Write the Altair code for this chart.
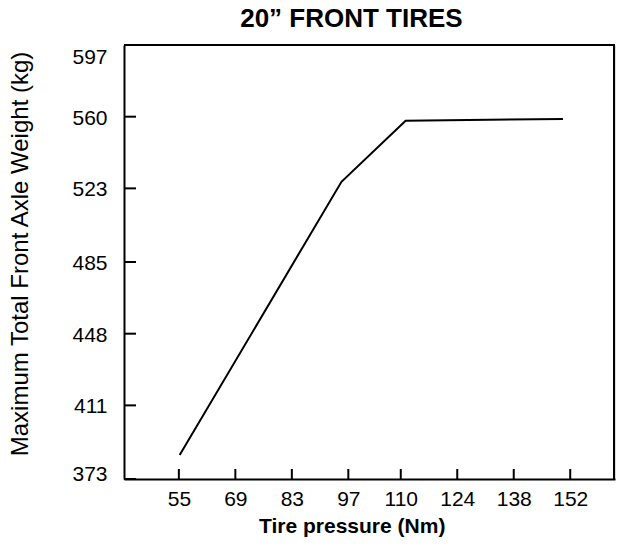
import altair as alt
import pandas as pd

# data
pressure = [55.2, 95.3, 111.2, 150.2]
weight = [385.4, 526.4, 557.9, 558.8]
x_ticks = [55, 69, 83, 97, 110, 124, 138, 152]
y_ticks = [373, 411, 448, 485, 523, 560, 597]
chart_title = ["20\u201d FRONT TIRES"]

FONT = "Liberation Sans"
W, H = 491, 434

line_df = pd.DataFrame({"p": pressure, "w": weight})
xt_df = pd.DataFrame({"p": x_ticks})
yt_df = pd.DataFrame({"w": y_ticks})
title_df = pd.DataFrame({"t": chart_title})

xscale = alt.Scale(domain=[41.4, 163.1], nice=False, zero=False)
yscale = alt.Scale(domain=[373, 597], nice=False, zero=False)

xaxis = alt.Axis(
    values=x_ticks, ticks=False, grid=False, domain=True, domainColor="black",
    domainWidth=2, labelFont=FONT, labelFontSize=21, labelColor="black",
    labelPadding=9, title="Tire pressure (Nm)", titleFont=FONT,
    titleFontSize=21, titleFontWeight="bold", titleColor="black",
    titleX=227.7, titleY=53, titleAlign="center", titleBaseline="alphabetic",
)
yaxis = alt.Axis(
    values=y_ticks, ticks=False, grid=False, domain=True, domainColor="black",
    domainWidth=2, labelFont=FONT, labelFontSize=21, labelColor="black",
    labelPadding=17,
    labelOffset={"condition": [{"test": "datum.value == 597", "value": 12},
                               {"test": "datum.value == 373", "value": -5}],
                 "value": 1.5},
    title="Maximum Total Front Axle Weight (kg)", titleFont=FONT,
    titleFontSize=24, titleFontWeight="normal", titleColor="black",
    titleX=-97, titleY=208.5, titleAlign="center", titleAngle=270,
    titleBaseline="alphabetic",
)

line = alt.Chart(line_df).mark_line(color="black", strokeWidth=2).encode(
    x=alt.X("p:Q", scale=xscale, axis=xaxis),
    y=alt.Y("w:Q", scale=yscale, axis=yaxis),
)

xticks = alt.Chart(xt_df).mark_rule(color="black", strokeWidth=2).encode(
    x=alt.X("p:Q", scale=xscale),
    y=alt.value(H),
    y2=alt.value(H - 10),
)

yticks = alt.Chart(yt_df).mark_rule(color="black", strokeWidth=2).encode(
    y=alt.Y("w:Q", scale=yscale),
    x=alt.value(0),
    x2=alt.value(12),
)

# frame: top and right borders
top_border = alt.Chart(title_df).mark_rule(color="black", strokeWidth=2).encode(
    x=alt.value(0), x2=alt.value(W), y=alt.value(0)
)
right_border = alt.Chart(title_df).mark_rule(color="black", strokeWidth=2).encode(
    x=alt.value(W - 1), y=alt.value(0), y2=alt.value(H)
)

title = alt.Chart(title_df).mark_text(
    font=FONT, fontSize=26, fontWeight="bold", color="black",
    align="center", baseline="alphabetic",
).encode(text="t:N", x=alt.value(227.4), y=alt.value(-18))

chart = alt.layer(line, xticks, yticks, top_border, right_border, title).properties(
    width=W,
    height=H,
    autosize=alt.AutoSizeParams(type="none"),
    padding={"left": 116, "top": 37, "right": 1, "bottom": 58},
).configure_view(stroke="black", strokeWidth=2).configure(background="white")

chart.save("out.html", embed_options={"renderer": "svg", "actions": False})
